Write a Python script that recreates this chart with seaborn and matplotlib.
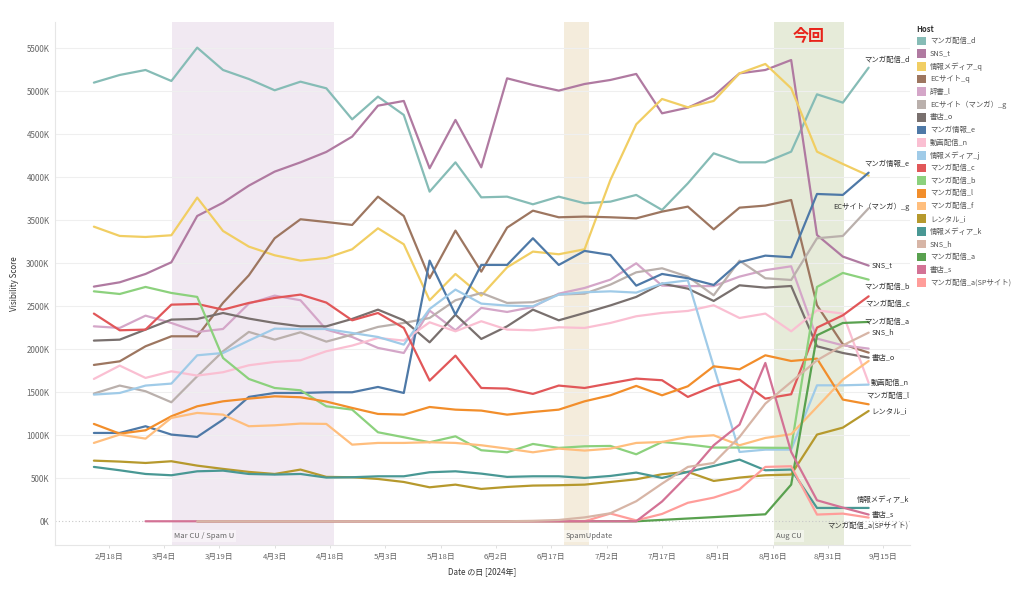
import matplotlib
matplotlib.use('Agg')
import numpy as np
import pandas as pd
import matplotlib.pyplot as plt
import matplotlib.colors as mcolors
import seaborn as sns
from matplotlib.patches import Rectangle
from matplotlib.transforms import blended_transform_factory

N = np.nan
dates = pd.date_range('2024-02-14', periods=31, freq='7D')

hosts = ['マンガ配信_d', 'SNS_t', '情報メディア_q', 'ECサイト_q', '辞書_l',
         'ECサイト（マンガ）_g', '書店_o', 'マンガ情報_e', '動画配信_n', '情報メディア_j',
         'マンガ配信_c', 'マンガ配信_b', 'マンガ配信_l', 'マンガ配信_f', 'レンタル_i',
         '情報メディア_k', 'SNS_h', 'マンガ配信_a', '書店_s', 'マンガ配信_a(SPサイト)']
colors = ['#86bcb6', '#b07aa1', '#f1ce63', '#9d7660', '#d4a6c8',
          '#bab0ac', '#79706e', '#4e79a7', '#fabfd2', '#a0cbe8',
          '#e15759', '#8cd17d', '#f28e2b', '#ffbe7d', '#b6992d',
          '#499894', '#d7b5a6', '#59a14f', '#d37295', '#ff9d9a']

manga_d = [5101, 5190, 5248, 5120, 5508, 5248, 5143, 5012, 5112, 5035, 4674, 4938, 4725, 3833, 4174, 3767,
           3775, 3686, 3775, 3698, 3717, 3795, 3620, 3930, 4279, 4174, 4174, 4298, 4965, 4868, 5275]
sns_t = [2729, 2779, 2876, 3012, 3550, 3705, 3903, 4066, 4174, 4295, 4473, 4833, 4888, 4105, 4667, 4116,
         5151, 5074, 5008, 5085, 5132, 5202, 4744, 4810, 4946, 5209, 5248, 5364, 3329, 3078, 2973]
media_q = [3426, 3318, 3306, 3326, 3764, 3376, 3194, 3093, 3031, 3062, 3163, 3407, 3221, 2570, 2876, 2624,
           2953, 3136, 3105, 3163, 3969, 4616, 4911, 4814, 4888, 5209, 5318, 5035, 4298, 4155, 4019]
ec_q = [1818, 1860, 2035, 2151, 2151, 2540, 2860, 3291, 3512, 3480, 3446, 3775, 3550, 2826, 3380, 2903,
        3415, 3612, 3535, 3543, 3535, 3523, 3601, 3659, 3395, 3647, 3671, 3736, 2512, 2058, 1961]
jisho_l = [2267, 2248, 2391, 2306, 2202, 2236, 2531, 2624, 2570, 2229, 2143, 2016, 1957, 2450, 2221, 2481,
           2434, 2492, 2647, 2713, 2810, 3000, 2740, 2735, 2735, 2845, 2920, 2965, 2124, 2046, 2008]
ec_manga_g = [1485, 1578, 1512, 1384, 1686, 1977, 2202, 2112, 2198, 2089, 2171, 2260, 2306, 2364, 2570, 2655,
              2539, 2547, 2636, 2647, 2752, 2895, 2942, 2845, 2628, 3031, 2826, 2806, 3291, 3318, 3640]
shoten_o = [2101, 2112, 2229, 2345, 2353, 2422, 2357, 2306, 2267, 2267, 2353, 2461, 2337, 2081, 2403, 2120,
            2267, 2461, 2337, 2422, 2510, 2609, 2764, 2705, 2562, 2744, 2717, 2736, 2035, 1957, 1903]
manga_info_e = [1027, 1027, 1105, 1008, 981, 1182, 1446, 1492, 1492, 1500, 1500, 1562, 1492, 3031, 2403, 2981,
                2981, 3291, 2981, 3144, 3097, 2740, 2876, 2826, 2748, 3012, 3089, 3070, 3806, 3795, 4054]
douga_n = [1655, 1810, 1667, 1744, 1694, 1733, 1814, 1853, 1872, 1977, 2043, 2132, 2101, 2314, 2209, 2326,
           2229, 2221, 2256, 2248, 2306, 2384, 2423, 2446, 2512, 2364, 2415, 2209, 2453, 2415, 1609]
media_j = [1473, 1492, 1578, 1601, 1930, 1957, 2101, 2240, 2236, 2236, 2190, 2143, 2054, 2469, 2694, 2531,
           2508, 2500, 2636, 2663, 2674, 2659, 2764, 2802, 1800, 806, 833, 833, 1581, 1581, 1589]
manga_c = [2415, 2221, 2229, 2519, 2527, 2461, 2539, 2597, 2636, 2543, 2337, 2422, 2248, 1636, 1926, 1550,
           1543, 1481, 1578, 1550, 1605, 1659, 1640, 1446, 1570, 1647, 1426, 1477, 2252, 2395, 2616]
manga_b = [2674, 2643, 2725, 2655, 2609, 1899, 1655, 1550, 1523, 1337, 1298, 1035, 977, 919, 988, 826,
           802, 899, 853, 872, 876, 779, 922, 895, 857, 857, 855, 853, 2725, 2888, 2810]
manga_l = [1132, 1019, 1058, 1221, 1337, 1395, 1426, 1453, 1442, 1392, 1318, 1248, 1240, 1329, 1298, 1287,
           1240, 1271, 1298, 1395, 1465, 1574, 1465, 1570, 1802, 1767, 1930, 1864, 1891, 1415, 1360]
manga_f = [911, 1008, 961, 1202, 1260, 1240, 1105, 1116, 1136, 1132, 891, 911, 911, 919, 911, 884,
           845, 802, 845, 822, 845, 911, 922, 981, 1000, 884, 969, 1012, 1329, 1647, 1864]
rental_i = [705, 694, 678, 698, 647, 609, 574, 550, 601, 516, 512, 492, 457, 395, 426, 376,
            399, 415, 419, 426, 457, 488, 547, 574, 469, 508, 535, 543, 1008, 1089, 1283]
media_k = [632, 593, 550, 535, 581, 589, 550, 543, 550, 508, 512, 523, 523, 570, 581, 554,
           516, 523, 523, 504, 527, 566, 504, 574, 643, 717, 593, 601, 155, 155, 155]
sns_h = [N, N, N, N, 0, 0, 0, 0, 0, 0, 0, 0, 0, 0, 0, 0,
         0, 5, 15, 45, 93, 233, 438, 632, 678, 981, 1368, 1620, 1872, 2046, 2194]
manga_a = [N, N, N, N, 0, 0, 0, 0, 0, 0, 0, 0, 0, 0, 0, 0,
           0, 0, 0, 0, 0, 0, 16, 32, 48, 65, 81, 426, 2163, 2306, 2318]
shoten_s = [N, N, 0, 0, 0, 0, 0, 0, 0, 0, 0, 0, 0, 0, 0, 0,
            0, 0, 0, 0, 0, 0, 230, 535, 884, 1124, 1841, 806, 244, 159, 78]
manga_a_sp = [N, N, N, N, 0, 0, 0, 0, 0, 0, 0, 0, 0, 0, 0, 0,
              0, 0, 0, 0, 90, 10, 85, 215, 275, 372, 632, 640, 78, 89, 43]

series = [manga_d, sns_t, media_q, ec_q, jisho_l, ec_manga_g, shoten_o, manga_info_e, douga_n, media_j,
          manga_c, manga_b, manga_l, manga_f, rental_i, media_k, sns_h, manga_a, shoten_s, manga_a_sp]

# end-of-line labels: host -> (dx, dy) pixel offsets from last point
end_labels = {
    'マンガ配信_d': (-4, 8), 'マンガ情報_e': (-4, 9), 'ECサイト（マンガ）_g': (-35, 1),
    'SNS_t': (3, 0), 'マンガ配信_b': (-4, -7), 'マンガ配信_c': (-3, -8), 'マンガ配信_a': (-4, 0),
    'SNS_h': (3, 0), '書店_o': (3, 0), '動画配信_n': (2, 0), 'マンガ配信_l': (-2, 8),
    'レンタル_i': (3, 0), '情報メディア_k': (-12, 8), '書店_s': (3, 0), 'マンガ配信_a(SPサイト)': (-41, -8.5),
}

# stacking of the lines lying on the zero baseline (higher = on top)
top_order = {'#d7b5a6': 2.6, '#d37295': 2.5}

xticks = pd.date_range('2024-02-18', periods=15, freq='15D')
yticks = list(range(0, 5501, 500))

bands = [
    ('Mar CU / Spam U', pd.Timestamp('2024-03-06 05:00'), pd.Timestamp('2024-04-19 05:00'), '#f1e9f2'),
    ('SpamUpdate', pd.Timestamp('2024-06-20 07:00'), pd.Timestamp('2024-06-27 05:00'), '#f4ecdc'),
    ('Aug CU', pd.Timestamp('2024-08-16 07:00'), pd.Timestamp('2024-09-04 10:00'), '#e6ebd9'),
]

rows = []
for h, vals in zip(hosts, series):
    for d, v in zip(dates, vals):
        rows.append((d, h, v))
df = pd.DataFrame(rows, columns=['date', 'host', 'value']).dropna()

sns.set_theme(style='white')
plt.rcParams['font.family'] = ['Noto Sans CJK JP', 'DejaVu Sans']

W, H = 1024, 589
fig = plt.figure(figsize=(W / 100, H / 100), dpi=100)
ax = fig.add_axes([55 / W, 1 - 545 / H, 855 / W, 523 / H])

for name, s, e, c in bands:
    ax.axvspan(s, e, color=c, lw=0, zorder=0)

for v in yticks[1:]:
    ax.axhline(v, color='#efefef', lw=0.8, zorder=0.5)
ax.axhline(0, color='#c8c8c8', lw=0.8, ls=(0, (1, 2)), zorder=0.5)

sns.lineplot(data=df, x='date', y='value', hue='host', hue_order=hosts,
             palette=dict(zip(hosts, colors)), linewidth=1.6, estimator=None,
             sort=True, legend=False, ax=ax, zorder=2)

for ln in ax.lines:
    hx = mcolors.to_hex(ln.get_color())
    if hx in top_order:
        ln.set_zorder(top_order[hx])

ax.set_xlim(pd.Timestamp('2024-02-03 11:00'), pd.Timestamp('2024-09-22 05:00'))
ax.set_ylim(-276, 5806)

ax.set_yticks(yticks)
ax.set_yticklabels([f'{v}K' for v in yticks])
ax.set_xticks(xticks)
ax.set_xticklabels([f'{d.month}月{d.day}日' for d in xticks])
ax.tick_params(axis='y', length=0, labelsize=5.8, labelcolor='#666666', pad=4)
ax.tick_params(axis='x', length=2.5, width=0.6, color='#d9d9d9', labelsize=5.6,
               labelcolor='#666666', pad=3, bottom=True)
for sp in ['top', 'right']:
    ax.spines[sp].set_visible(False)
for sp in ['left', 'bottom']:
    ax.spines[sp].set_color('#e6e6e6')
    ax.spines[sp].set_linewidth(0.8)

ax.set_xlabel('Date の日 [2024年]', fontsize=5.8, color='#333333', labelpad=5)
ax.set_ylabel('Visibility Score', fontsize=5.8, color='#333333', labelpad=5)

# band labels
trans = blended_transform_factory(ax.transData, ax.transAxes)
for name, s, e, c in bands:
    ax.text(s + pd.Timedelta(hours=14), 0.01, name, transform=trans, fontsize=5.5, color='#666666',
            ha='left', va='bottom', zorder=3,
            bbox=dict(boxstyle='square,pad=0.25', fc='white', ec='none', alpha=0.45))

# 今回
aug_s, aug_e = bands[2][1], bands[2][2]
ax.text(aug_s + (aug_e - aug_s) / 2, 0.974, '今回', transform=trans, fontsize=11.5,
        fontweight='bold', color='#e8231a', ha='center', va='center', zorder=4)

# end labels
for h, vals in zip(hosts, series):
    if h in end_labels:
        dx, dy = end_labels[h]
        ax.annotate(h, xy=(dates[-1], vals[-1]), xytext=(dx, dy), textcoords='offset pixels',
                    fontsize=5.3, color='#333333', ha='left', va='center',
                    annotation_clip=False, zorder=5)

# legend
fig.text(916 / W, 1 - 29 / H, 'Host', fontsize=5.5, color='#333333', fontweight='bold',
         ha='left', va='center')
for k, (h, c) in enumerate(zip(hosts, colors)):
    y = 41 + 12.7 * k
    fig.patches.append(Rectangle((917 / W, 1 - (y + 4.3) / H), 8.6 / W, 8.6 / H,
                                 transform=fig.transFigure, facecolor=c, edgecolor='none'))
    fig.text(930 / W, 1 - y / H, h, fontsize=5.3, color='#555555', ha='left', va='center')

fig.savefig('out.png', dpi=100, facecolor='white')
